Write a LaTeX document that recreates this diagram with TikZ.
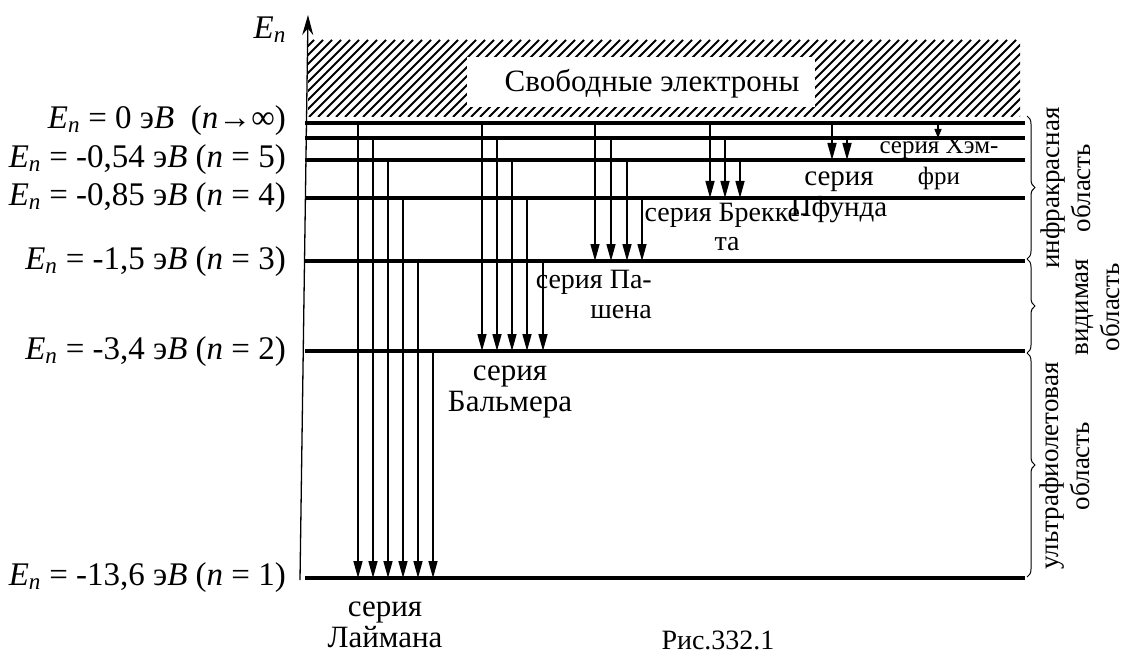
\documentclass[tikz,border=0pt]{standalone}
\usepackage{fontspec}
\setmainfont{Liberation Serif}
\usepackage{tikz}
\usetikzlibrary{arrows.meta, decorations.pathreplacing}

\newcommand{\En}{\textit{E}\textsubscript{\textit{n}}}

\begin{document}
\begin{tikzpicture}[
  x=1pt, y=-1pt,
  lbl/.style={font=\fontsize{33}{36}\selectfont, inner sep=0pt, anchor=east},
  ser/.style={font=\fontsize{31}{31}\selectfont, align=center, inner sep=0pt},
  reg/.style={font=\fontsize{27}{31}\selectfont, rotate=90, align=center, inner sep=0pt},
  lvl/.style={line width=3.5pt},
  spec/.style={line width=1.5pt, -{Triangle[length=17pt,width=9pt]}},
  brc/.style={decorate, decoration={brace, amplitude=8pt}, line width=1pt}
]
  \useasboundingbox (0,0) rectangle (1126,655);

  % Free electrons
  \begin{scope}
    \clip (308,40) rectangle (1020,117);
    \foreach \i in {228,237,...,1020}
      \draw[line width=2pt] (\i,117) -- (\i+77,40);
  \end{scope}
  \fill[white] (467,57) rectangle (815,107);
  \node[ser] (free) at (652,84) {Свободные электроны};

  % Axis
  \coordinate (axb) at (300,580);
  \coordinate (axt) at (308,15);
  \draw[-{Stealth[length=20pt,width=11pt]}, line width=1.3pt] (axb) -- (axt);
  \node[lbl] (Elbl) at (286,30) {\En};

  % Levels
  \foreach \n/\y in {inf/123,6/138,5/160,4/198,3/261,2/351,1/578} {
    \coordinate (L\n) at (0,\y);
    \draw[lvl] (305,0 |- L\n) -- (1025,0 |- L\n);
  }
  \node[lbl] (Einf) at (286,121) {\En{} = 0 э\textit{B}\ \ (\textit{n}→∞)};
  \node[lbl] (E5) at (286,160) {\En{} = -0,54 э\textit{B} (\textit{n} = 5)};
  \node[lbl] (E4) at (286,198) {\En{} = -0,85 э\textit{B} (\textit{n} = 4)};
  \node[lbl] (E3) at (286,262) {\En{} = -1,5 э\textit{B} (\textit{n} = 3)};
  \node[lbl] (E2) at (286,352) {\En{} = -3,4 э\textit{B} (\textit{n} = 2)};
  \node[lbl] (E1) at (286,578) {\En{} = -13,6 э\textit{B} (\textit{n} = 1)};

  % Transitions
  \foreach \x/\n in {358/inf,373/6,388/5,403/4,418/3,433/2}
    \draw[spec] (\x,0 |- L\n) -- (\x,0 |- L1);
  \foreach \x/\n in {482/inf,497/6,512/5,527/4,543/3}
    \draw[spec] (\x,0 |- L\n) -- (\x,0 |- L2);
  \foreach \x/\n in {595/inf,611/6,627/5,642/4}
    \draw[spec] (\x,0 |- L\n) -- (\x,0 |- L3);
  \foreach \x/\n in {710/inf,725/6,740/5}
    \draw[spec] (\x,0 |- L\n) -- (\x,0 |- L4);
  \foreach \x/\n in {832/inf,847/6}
    \draw[spec] (\x,0 |- L\n) -- (\x,0 |- L5);
  \draw[line width=1.5pt, -{Triangle[length=9pt,width=7pt]}] (938,0 |- Linf) -- (938,0 |- L6);

  % Series names
  \node[ser] (lyman) at (385,625) {серия\\Лаймана};
  \node[ser] (balmer) at (510,392) {серия\\Бальмера};
  \node[ser, font=\fontsize{28}{30}\selectfont, align=right, anchor=north east] (paschen) at (652,270) {серия Па-\\шена};
  \node[ser, font=\fontsize{28}{29}\selectfont] (brackett) at (727,227) {серия Брекке-\\та};
  \node[ser, font=\fontsize{29}{31}\selectfont] (pfund) at (839,197) {серия\\Пфунда};
  \node[ser, font=\fontsize{25}{31}\selectfont] (humphreys) at (939,163) {серия Хэм-\\фри};

  % Regions
  \draw[brc] (1027,116) -- (1027,259);
  \draw[brc] (1027,259) -- (1027,353);
  \draw[brc] (1027,353) -- (1027,577);
  \node[reg] (ir) at (1066,188) {инфракрасная\\область};
  \node[reg] (vis) at (1098,307) {видимая\\область};
  \node[reg] (uv) at (1065,466) {ультрафиолетовая\\область};

  \node[ser, font=\fontsize{28}{30}\selectfont] (cap) at (718,640) {Рис.332.1};
\end{tikzpicture}
\end{document}
